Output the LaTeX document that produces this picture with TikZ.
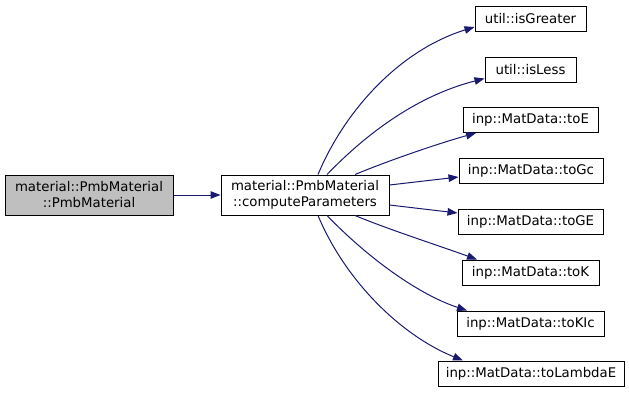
\documentclass[tikz,border=0pt]{standalone}
\usepackage{fontspec}
\setmainfont{DejaVu Sans}
\usetikzlibrary{arrows.meta}
\definecolor{edgeblue}{HTML}{191970}
\definecolor{curfill}{HTML}{BFBFBF}
\tikzset{
  fn/.style={draw=black, line width=1pt, fill=white, inner sep=0pt,
    minimum height=25pt, align=center,
    font=\fontsize{13.3}{16}\selectfont},
  fnwide/.style={fn, minimum height=40pt},
  curfn/.style={fnwide, fill=curfill},
  call/.style={draw=edgeblue, line width=1pt,
    -{Triangle[length=10pt,width=7.5pt]}, fill=none},
  calltip/.style={fill=edgeblue}
}
\begin{document}
\begin{tikzpicture}[x=1pt, y=-1pt]
  \useasboundingbox (0,0) rectangle (629,392);

  % caller and the function whose callees are shown
  \node[curfn, minimum width=168pt] (pmb) at (89,195) {material::PmbMaterial\\::PmbMaterial};
  \node[fnwide, minimum width=168pt] (cp) at (305,195) {material::PmbMaterial\\::computeParameters};

  % callees
  \node[fn, minimum width=111pt] (isg) at (530.5,18.5) {util::isGreater};
  \node[fn, minimum width=91pt]  (isl) at (530.5,69.5) {util::isLess};
  \node[fn, minimum width=135pt] (toe) at (530.5,120) {inp::MatData::toE};
  \node[fn, minimum width=144pt] (togc) at (531,170.5) {inp::MatData::toGc};
  \node[fn, minimum width=145pt] (toge) at (530.5,221.5) {inp::MatData::toGE};
  \node[fn, minimum width=137pt] (tok) at (530.5,272.5) {inp::MatData::toK};
  \node[fn, minimum width=147pt] (tokic) at (530.5,323.5) {inp::MatData::toKIc};
  \node[fn, minimum width=186pt] (tole) at (531,373.5) {inp::MatData::toLambdaE};

  % call edges
  \draw[call] (pmb.east) -- (cp.west);
  \draw[call] ([xshift=13pt]cp.north) .. controls (345,110) and (400,50) .. ([yshift=-8.5pt]isg.west);
  \draw[call] ([xshift=22pt]cp.north) .. controls (370,130) and (420,95) .. ([yshift=-9pt]isl.west);
  \draw[call] ([xshift=50pt]cp.north) .. controls (390,160) and (440,143) .. ([xshift=-54.5pt]toe.south);
  \draw[call] ([yshift=10pt]cp.east) -- ([yshift=-6.5pt]togc.west);
  \draw[call] ([yshift=-10pt]cp.east) -- ([yshift=8.5pt]toge.west);
  \draw[call] ([xshift=50pt]cp.south) .. controls (390,230) and (440,246) .. ([xshift=-53.5pt]tok.north);
  \draw[call] ([xshift=22pt]cp.south) .. controls (370,260) and (420,295) .. ([xshift=-63.5pt]tokic.north);
  \draw[call] ([xshift=13pt]cp.south) .. controls (345,280) and (400,335) .. ([xshift=-68pt]tole.north);
\end{tikzpicture}
\end{document}
